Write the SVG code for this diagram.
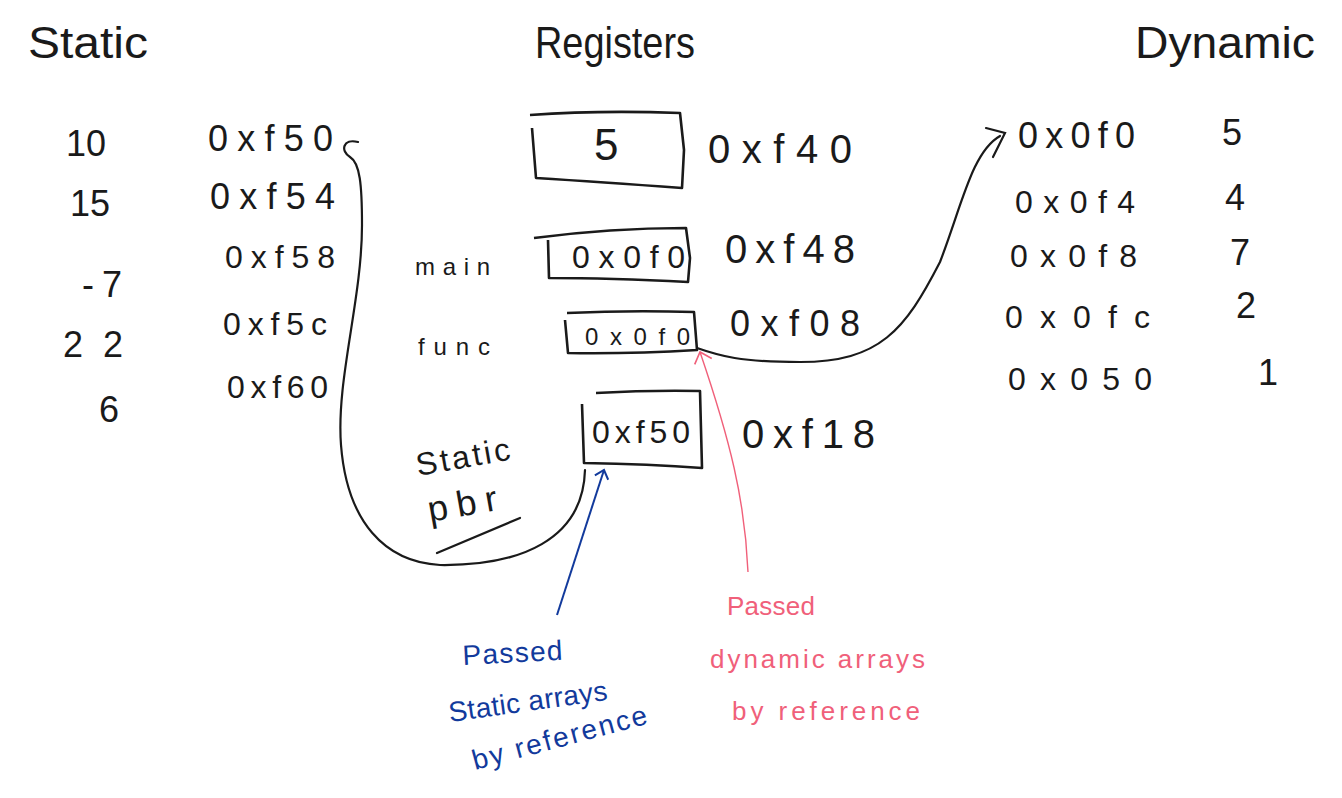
<svg xmlns="http://www.w3.org/2000/svg" width="1342" height="798" viewBox="0 0 1342 798">
<defs>
<style>
text{font-family:"Liberation Sans","DejaVu Sans",sans-serif;fill:#1a1a1a}
.h{font-size:44px}
.a{font-size:36px}
.b{font-size:40px}
.m{font-size:32px}
.sm{font-size:24px}
.box{fill:none;stroke:#1a1a1a;stroke-width:2.6;stroke-linejoin:round}
.ink{fill:none;stroke:#1a1a1a;stroke-width:2.2;stroke-linecap:round}
.blue{fill:#123a9c;font-size:28px}
.pink{fill:#f0607a;font-size:26px}
</style>
<marker id="ab" viewBox="0 0 20 20" refX="10" refY="10" markerWidth="20" markerHeight="20" markerUnits="userSpaceOnUse" orient="auto">
<path d="M2 3 L10 10 L2 17" fill="none" stroke="#123a9c" stroke-width="2"/>
</marker>
<marker id="ap" viewBox="0 0 24 24" refX="12" refY="12" markerWidth="24" markerHeight="24" markerUnits="userSpaceOnUse" orient="auto">
<path d="M2 3 L12 12 L2 21" fill="none" stroke="#f0607a" stroke-width="1.6"/>
</marker>
</defs>
<rect width="1342" height="798" fill="#fff"/>

<g id="headers">
<text class="h" x="28" y="58" textLength="120" lengthAdjust="spacingAndGlyphs">Static</text>
<text class="h" x="535" y="58" textLength="160" lengthAdjust="spacingAndGlyphs">Registers</text>
<text class="h" x="1135" y="58" textLength="180" lengthAdjust="spacingAndGlyphs">Dynamic</text>
</g>

<g id="static-array">
<text class="a" x="66" y="156">10</text>
<text class="a" x="70" y="216">15</text>
<text class="a" x="82" y="297" textLength="40" lengthAdjust="spacing">-7</text>
<text class="a" x="63" y="357" textLength="60" lengthAdjust="spacing">22</text>
<text class="a" x="99" y="422">6</text>
<text class="a" x="208" y="151" textLength="125" lengthAdjust="spacing">0xf50</text>
<text class="a" x="210" y="209" textLength="125" lengthAdjust="spacing">0xf54</text>
<text class="m" x="225" y="268" textLength="110" lengthAdjust="spacing">0xf58</text>
<text class="m" x="223" y="335" textLength="104" lengthAdjust="spacing">0xf5c</text>
<text class="m" x="227" y="398" textLength="101" lengthAdjust="spacing">0xf60</text>
</g>

<g id="reg-5">
<path class="box" d="M530 115 Q600 110 680 113 L684 150 L682 188 Q600 182 536 178 L532 128"/>
<text class="h" x="594" y="160">5</text>
<text class="b" x="708" y="163" textLength="144" lengthAdjust="spacing">0xf40</text>
</g>

<g id="reg-main">
<path class="box" d="M534 238 Q610 228 686 228 L690 258 L688 282 Q610 278 549 278 L548 240"/>
<text class="sm" x="415" y="275" textLength="75" lengthAdjust="spacing">main</text>
<text class="m" x="572" y="268" textLength="113" lengthAdjust="spacing">0x0f0</text>
<text class="b" x="725" y="263" textLength="130" lengthAdjust="spacing">0xf48</text>
</g>

<g id="reg-func">
<path class="box" d="M567 313 Q630 310 694 312 L697 350 Q630 354 568 353 L565 320"/>
<text class="sm" x="418" y="355" textLength="72" lengthAdjust="spacing">func</text>
<text class="sm" x="585" y="345" textLength="105" lengthAdjust="spacing">0x0f0</text>
<text class="a" x="730" y="336" textLength="130" lengthAdjust="spacing">0xf08</text>
</g>

<g id="reg-pbr">
<path class="box" d="M596 393 Q650 390 700 391 L702 468 Q650 464 584 463 L582 404"/>
<text class="m" x="592" y="443" textLength="98" lengthAdjust="spacing">0xf50</text>
<text class="b" x="742" y="448" textLength="133" lengthAdjust="spacing">0xf18</text>
<text class="m" x="418" y="476" textLength="95" lengthAdjust="spacing" transform="rotate(-10 418 476)">Static</text>
<text class="a" x="430" y="522" textLength="70" lengthAdjust="spacing" transform="rotate(-10 430 522)">pbr</text>
<path class="ink" d="M437 553 L520 518"/>
</g>

<g id="dynamic-array">
<text class="a" x="1018" y="148" textLength="117" lengthAdjust="spacing">0x0f0</text>
<text class="m" x="1015" y="213" textLength="120" lengthAdjust="spacing">0x0f4</text>
<text class="m" x="1010" y="267" textLength="127" lengthAdjust="spacing">0x0f8</text>
<text class="m" x="1005" y="328" textLength="145" lengthAdjust="spacing">0x0fc</text>
<text class="m" x="1008" y="390" textLength="144" lengthAdjust="spacing">0x050</text>
<text class="a" x="1222" y="145">5</text>
<text class="a" x="1225" y="210">4</text>
<text class="a" x="1230" y="265">7</text>
<text class="a" x="1236" y="318">2</text>
<text class="a" x="1258" y="385">1</text>
</g>

<g id="notes">
<text class="blue" x="463" y="665" textLength="100" lengthAdjust="spacing" transform="rotate(-3 463 665)">Passed</text>
<text class="blue" x="450" y="722" textLength="160" lengthAdjust="spacing" transform="rotate(-8 450 722)">Static arrays</text>
<text class="blue" x="475" y="770" textLength="180" lengthAdjust="spacing" transform="rotate(-15 475 770)">by reference</text>
<text class="pink" x="727" y="615" textLength="88" lengthAdjust="spacing">Passed</text>
<text class="pink" x="710" y="668" textLength="215" lengthAdjust="spacing">dynamic arrays</text>
<text class="pink" x="732" y="720" textLength="188" lengthAdjust="spacing">by reference</text>
</g>

<g id="connectors">
<path class="ink" d="M585 470 C583 540 520 566 440 565 C385 562 347 522 341 445 C336 380 362 300 362 225 C362 185 360 163 350 157 C340 151 343 138 358 142"/>
<path class="ink" d="M697 348 C720 356 740 362 800 362 C880 362 905 330 940 262 C962 205 972 152 1000 136"/>
<path class="ink" d="M986 128 L1005 133 L993 157"/>
<path d="M557 615 L604 470" fill="none" stroke="#123a9c" stroke-width="2" marker-end="url(#ab)"/>
<path d="M748 572 C745 500 730 440 700 352" fill="none" stroke="#f0607a" stroke-width="1.4" marker-end="url(#ap)"/>
</g>
</svg>
